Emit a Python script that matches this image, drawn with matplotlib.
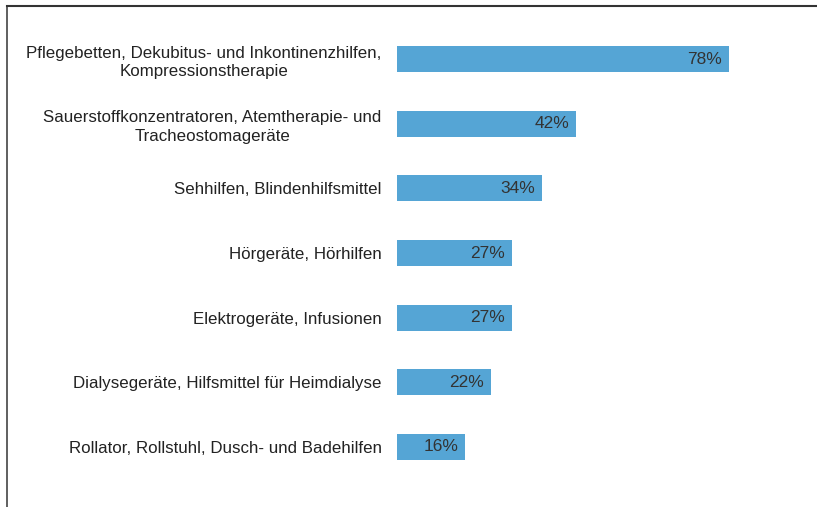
import matplotlib.pyplot as plt
from matplotlib.lines import Line2D

categories = [
    'Pflegebetten, Dekubitus- und Inkontinenzhilfen,\nKompressionstherapie',
    'Sauerstoffkonzentratoren, Atemtherapie- und\nTracheostomageräte',
    'Sehhilfen, Blindenhilfsmittel',
    'Hörgeräte, Hörhilfen',
    'Elektrogeräte, Infusionen',
    'Dialysegeräte, Hilfsmittel für Heimdialyse',
    'Rollator, Rollstuhl, Dusch- und Badehilfen',
]
values = [78, 42, 34, 27, 27, 22, 16]

plt.rcParams['font.family'] = ['Liberation Sans', 'DejaVu Sans']

W, H = 817, 507
fig = plt.figure(figsize=(W / 100, H / 100), dpi=100)
ax = fig.add_axes([397 / W, 1 - 479.3 / H, 383 / W, 452.6 / H])

pos = list(range(len(categories)))
ax.barh(pos, values, height=0.4, color='#55a5d5')
ax.set_xlim(0, 90)
ax.set_ylim(len(categories) - 0.5, -0.5)
ax.set_yticks(pos)
ax.set_yticklabels(categories, fontsize=12.15, color='#222222',
                   linespacing=1.33)
for lbl in ax.get_yticklabels():
    lbl.set_horizontalalignment('right')
    lbl.set_multialignment('center')
ax.tick_params(axis='y', length=0, pad=11)
ax.set_xticks([])
for s in ax.spines.values():
    s.set_visible(False)

for i, v in enumerate(values):
    ax.text(v - 1.6, i, f'{v}%', ha='right', va='center', fontsize=12.5,
            color='#333333')

# outer frame (left + top)
fig.add_artist(Line2D([7 / W, 7 / W], [0, 1 - 6 / H], transform=fig.transFigure,
                      color='#444444', lw=1.2))
fig.add_artist(Line2D([7 / W, 1], [1 - 6 / H, 1 - 6 / H], transform=fig.transFigure,
                      color='#333333', lw=1.5))

fig.savefig('out.png', dpi=100)
